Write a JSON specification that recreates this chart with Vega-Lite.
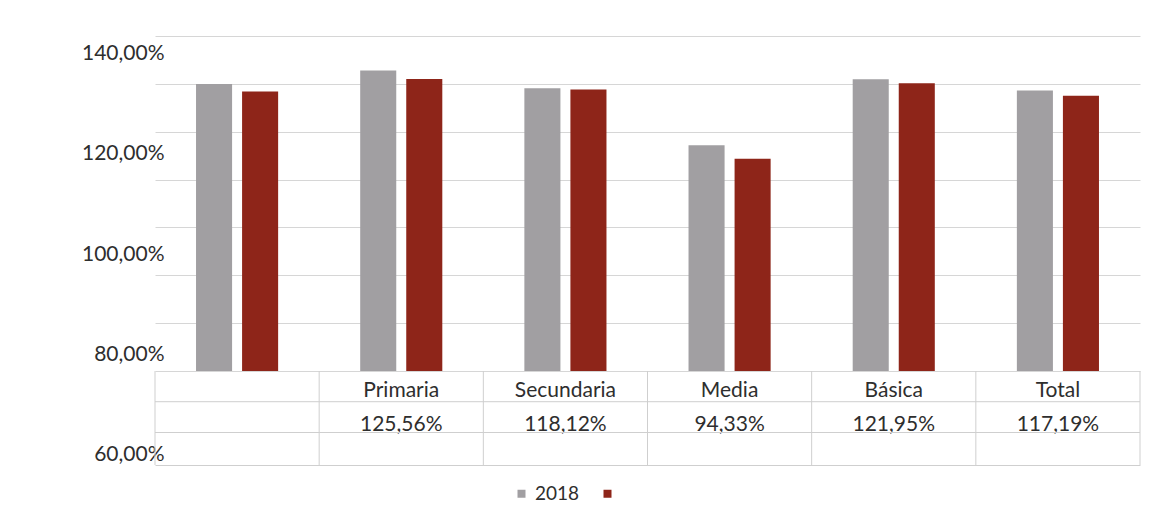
{
  "$schema": "https://vega.github.io/schema/vega-lite/v6.json",
  "width": 985,
  "height": 429,
  "autosize": {"type": "none"},
  "padding": {"left": 155, "top": 36, "right": 17, "bottom": 56},
  "background": "white",
  "config": {
    "view": {"stroke": null},
    "font": "Lato",
    "locale": {"number": {"decimal": ",", "thousands": ".", "grouping": [3], "currency": ["", " €"]}}
  },
  "data": {
    "values": [
      {"nivel": "", "serie": "2018", "tasa": 1.199},
      {"nivel": "", "serie": "", "tasa": 1.168},
      {"nivel": "Primaria", "serie": "2018", "tasa": 1.2556},
      {"nivel": "Primaria", "serie": "", "tasa": 1.220},
      {"nivel": "Secundaria", "serie": "2018", "tasa": 1.1812},
      {"nivel": "Secundaria", "serie": "", "tasa": 1.176},
      {"nivel": "Media", "serie": "2018", "tasa": 0.9433},
      {"nivel": "Media", "serie": "", "tasa": 0.887},
      {"nivel": "Básica", "serie": "2018", "tasa": 1.2195},
      {"nivel": "Básica", "serie": "", "tasa": 1.203},
      {"nivel": "Total", "serie": "2018", "tasa": 1.1719},
      {"nivel": "Total", "serie": "", "tasa": 1.150}
    ]
  },
  "layer": [
    {
      "layer": [
        {
          "mark": {"type": "bar"},
          "encoding": {
            "x": {
              "field": "nivel", "type": "nominal",
              "sort": ["", "Primaria", "Secundaria", "Media", "Básica", "Total"],
              "scale": {"paddingInner": 0, "paddingOuter": 0},
              "axis": {"labels": false, "ticks": false, "title": null, "domain": true, "domainColor": "#cfcfcf", "domainWidth": 1, "grid": false}
            },
            "xOffset": {
              "field": "serie", "type": "nominal",
              "sort": ["2018", ""],
              "scale": {"paddingInner": 0.217, "paddingOuter": 0.891}
            },
            "y": {
              "field": "tasa", "type": "quantitative",
              "scale": {"domain": [-0.3928, 1.4], "nice": false, "zero": false},
              "axis": {"orient": "right", "labels": false, "ticks": false, "domain": false, "title": null,
                       "values": [0, 0.2, 0.4, 0.6, 0.8, 1, 1.2, 1.4], "grid": true, "gridColor": "#d6d6d6", "gridWidth": 1}
            },
            "color": {
              "field": "serie", "type": "nominal",
              "scale": {"domain": ["2018", ""], "range": ["#a19fa2", "#8e2519"]},
              "legend": {
                "title": null, "orient": "none", "legendX": 357, "legendY": 448,
                "direction": "horizontal", "symbolType": "square", "symbolSize": 64,
                "symbolStrokeWidth": 0, "labelFont": "Lato", "labelFontSize": 19,
                "labelColor": "#2e2e2e", "labelOffset": 4, "columnPadding": 18
              }
            }
          }
        },
        {
          "transform": [{"filter": "datum.serie == '2018' && datum.nivel != ''"}],
          "mark": {"type": "text", "font": "Lato", "fontSize": 21, "color": "#2e2e2e", "baseline": "alphabetic", "align": "center"},
          "encoding": {
            "x": {"field": "nivel", "type": "nominal", "sort": ["", "Primaria", "Secundaria", "Media", "Básica", "Total"]},
            "y": {"datum": -0.1066},
            "text": {"field": "nivel", "type": "nominal"}
          }
        },
        {
          "transform": [{"filter": "datum.serie == '2018' && datum.nivel != ''"}],
          "mark": {"type": "text", "font": "Lato", "fontSize": 21, "color": "#2e2e2e", "baseline": "alphabetic", "align": "center"},
          "encoding": {
            "x": {"field": "nivel", "type": "nominal", "sort": ["", "Primaria", "Secundaria", "Media", "Básica", "Total"]},
            "y": {"datum": -0.2507},
            "text": {"field": "tasa", "type": "quantitative", "format": ".2%"}
          }
        },
        {
          "transform": [{"filter": "datum.serie == '2018'"}],
          "mark": {"type": "rule", "color": "#cfcfcf", "strokeWidth": 1},
          "encoding": {
            "x": {"field": "nivel", "type": "nominal", "sort": ["", "Primaria", "Secundaria", "Media", "Básica", "Total"], "bandPosition": 0},
            "y": {"datum": 0},
            "y2": {"datum": -0.3928}
          }
        },
        {
          "transform": [{"filter": "datum.serie == '2018' && datum.nivel == 'Total'"}],
          "mark": {"type": "rule", "color": "#cfcfcf", "strokeWidth": 1},
          "encoding": {
            "x": {"field": "nivel", "type": "nominal", "sort": ["", "Primaria", "Secundaria", "Media", "Básica", "Total"], "bandPosition": 1},
            "y": {"datum": 0},
            "y2": {"datum": -0.3928}
          }
        },
        {
          "transform": [{"filter": "datum.serie == '2018' && datum.nivel == 'Total'"}],
          "mark": {"type": "rule", "color": "#cfcfcf", "strokeWidth": 1},
          "encoding": {"y": {"datum": -0.1283}}
        },
        {
          "transform": [{"filter": "datum.serie == '2018' && datum.nivel == 'Total'"}],
          "mark": {"type": "rule", "color": "#cfcfcf", "strokeWidth": 1},
          "encoding": {"y": {"datum": -0.2570}}
        }
      ]
    },
    {
      "mark": {"type": "rule", "opacity": 0},
      "encoding": {
        "y": {
          "field": "tasa", "type": "quantitative",
          "scale": {"domain": [0.5791, 1.4349], "nice": false, "zero": false},
          "axis": {"orient": "left", "values": [0.6, 0.8, 1, 1.2, 1.4], "format": ".2%", "grid": false,
                   "domain": false, "ticks": false, "labelPadding": -9, "labelFont": "Lato",
                   "labelFontSize": 21, "labelColor": "#2e2e2e", "title": null}
        }
      }
    }
  ],
  "resolve": {"scale": {"y": "independent"}, "axis": {"y": "independent"}}
}
